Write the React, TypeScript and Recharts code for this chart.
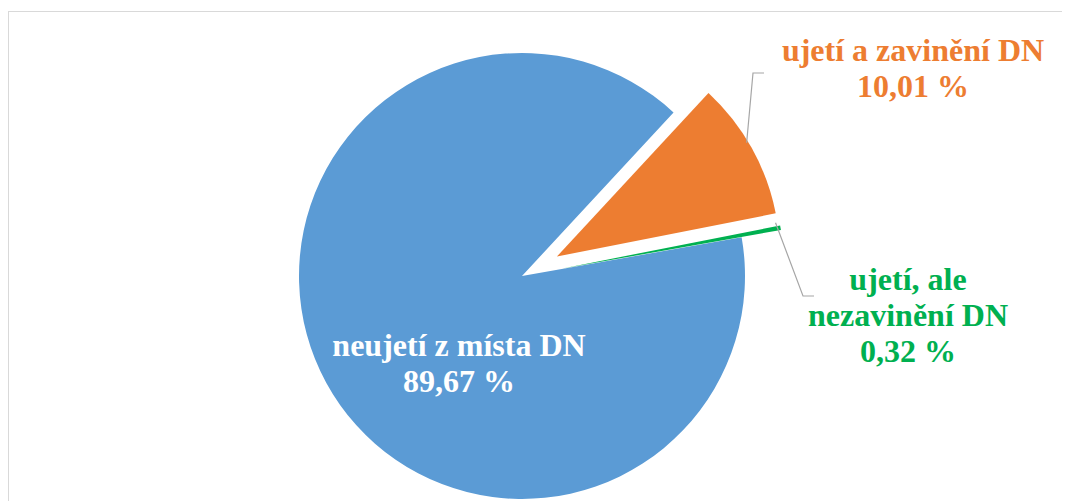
import { PieChart, Pie, Cell } from 'recharts';

// data
const CATEGORIES = ['neujetí z místa DN', 'ujetí a zavinění DN', 'ujetí, ale nezavinění DN'];
const SHARES = [89.67, 10.01, 0.32];
const SHARE_LABELS = ['89,67 %', '10,01 %', '0,32 %'];
const LABEL_LINES = [['neujetí z místa DN'], ['ujetí a zavinění DN'], ['ujetí, ale', 'nezavinění DN']];
const EXPLODED = [false, true, true];

const COLORS = ['#5B9BD5', '#ED7D31', '#00B050'];
const TEXT_COLORS = ['#FFFFFF', '#ED7D31', '#00B050'];

// layout
const WIDTH = 1100;
const HEIGHT = 500;
const CX = 508;
const CY = 259;
const R = 223;
const EXPLODE = 40;
const START = 10;
const END = START - 360;
const FONT_CSS = "bold 32px 'Liberation Serif', 'Times New Roman', serif";
const LINE_H = 36;
const RAD = Math.PI / 180;

const LABEL_LAYOUT = [
  { x: 450, y: 344, elbow: null as number[][] | null },
  { x: 904, y: 49, elbow: [[744, 61], [755, 61]] },
  { x: 899, y: 278, elbow: [[794, 284], [805, 284]] },
];

const data = CATEGORIES.map((name, i) => ({ name, value: SHARES[i] }));
const total = SHARES.reduce((a, b) => a + b, 0);

// mid angle of each slice (recharts degrees) and its centre (exploded slices pushed out)
const mids = SHARES.map((v, i) => {
  const before = SHARES.slice(0, i).reduce((a, b) => a + b, 0);
  return START - ((before + v / 2) / total) * 360;
});
const centers = mids.map((mid, i) => {
  const d = EXPLODED[i] ? EXPLODE : 0;
  return { cx: CX + d * Math.cos(mid * RAD), cy: CY - d * Math.sin(mid * RAD) };
});

function Labels() {
  return (
    <svg
      width={WIDTH}
      height={HEIGHT}
      style={{ position: 'absolute', left: 0, top: 0, pointerEvents: 'none', font: FONT_CSS }}
    >
      {LABEL_LAYOUT.map((lay, k) => {
        const lines = [...LABEL_LINES[k], SHARE_LABELS[k]];
        let line = null;
        if (lay.elbow) {
          const sx = centers[k].cx + R * Math.cos(mids[k] * RAD);
          const sy = centers[k].cy - R * Math.sin(mids[k] * RAD);
          const pts = [[sx, sy], ...lay.elbow].map(p => p.join(',')).join(' ');
          line = <polyline points={pts} fill="none" stroke="#a6a6a6" strokeWidth={1.2} />;
        }
        return (
          <g key={k}>
            {line}
            {lines.map((t, j) => (
              <text
                key={j}
                x={lay.x}
                y={lay.y + j * LINE_H}
                textAnchor="middle"
                fill={TEXT_COLORS[k]}
                style={{ font: FONT_CSS }}
              >
                {t}
              </text>
            ))}
          </g>
        );
      })}
    </svg>
  );
}

export default function App() {
  return (
    <div
      style={{
        position: 'relative',
        marginTop: 3,
        width: WIDTH,
        height: HEIGHT,
        border: '1px solid #d9d9d9',
        background: '#fff',
      }}
    >
      <style>{'body{overflow:hidden}'}</style>
      <PieChart width={WIDTH} height={HEIGHT}>
        {data.map((_, k) => (
          <Pie
            key={k}
            data={data}
            dataKey="value"
            nameKey="name"
            cx={centers[k].cx}
            cy={centers[k].cy}
            outerRadius={R}
            startAngle={START}
            endAngle={END}
            stroke="none"
            labelLine={false}
            label={false}
            isAnimationActive={false}
          >
            {data.map((_, i) => (
              <Cell key={i} fill={i === k ? COLORS[i] : 'transparent'} stroke="none" />
            ))}
          </Pie>
        ))}
      </PieChart>
      <Labels />
    </div>
  );
}
